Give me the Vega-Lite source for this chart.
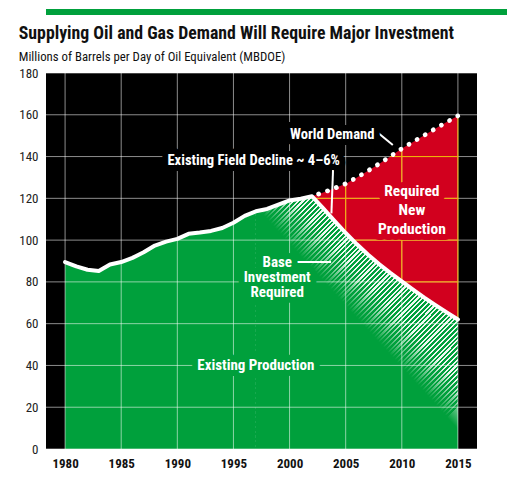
{
 "$schema": "https://vega.github.io/schema/vega-lite/v6.json",
 "padding": {"left": 18, "top": 9, "right": 0, "bottom": 0},
 "background": "#ffffff",
 "spacing": 10,
 "columns": 1,
 "align": "none",
 "config": {
  "font": "Roboto Condensed",
  "view": {"stroke": null},
  "axis": {"grid": false, "domain": false, "ticks": false, "labelFont": "Roboto Condensed"},
  "text": {"font": "Roboto Condensed"}
 },
 "datasets": {
  "main": [
   {"year": 1980, "prod": 89.5}, {"year": 1981, "prod": 87.4}, {"year": 1982, "prod": 85.8},
   {"year": 1983, "prod": 85.2}, {"year": 1984, "prod": 88.3}, {"year": 1985, "prod": 89.5},
   {"year": 1986, "prod": 91.5}, {"year": 1987, "prod": 94.2}, {"year": 1988, "prod": 97.4},
   {"year": 1989, "prod": 99.3}, {"year": 1990, "prod": 100.6}, {"year": 1991, "prod": 103},
   {"year": 1992, "prod": 103.6}, {"year": 1993, "prod": 104.4}, {"year": 1994, "prod": 105.8},
   {"year": 1995, "prod": 108.3}, {"year": 1996, "prod": 111.6}, {"year": 1997, "prod": 113.8},
   {"year": 1998, "prod": 114.9}, {"year": 1999, "prod": 117}, {"year": 2000, "prod": 119},
   {"year": 2001, "prod": 119.8},
   {"year": 2002, "prod": 121, "demand": 121},
   {"year": 2003, "prod": 115.2, "demand": 122.8},
   {"year": 2004, "prod": 109.2, "demand": 124.8},
   {"year": 2005, "prod": 103.4, "demand": 127},
   {"year": 2006, "prod": 98, "demand": 130},
   {"year": 2007, "prod": 93, "demand": 133.2},
   {"year": 2008, "prod": 88.4, "demand": 136.6},
   {"year": 2009, "prod": 84.2, "demand": 140.2},
   {"year": 2010, "prod": 80.2, "demand": 143.8},
   {"year": 2011, "prod": 76.3, "demand": 147},
   {"year": 2012, "prod": 72.5, "demand": 150.2},
   {"year": 2013, "prod": 68.9, "demand": 153.4},
   {"year": 2014, "prod": 65.4, "demand": 156.5},
   {"year": 2015, "prod": 62, "demand": 159.5}
  ]
 },
 "concat": [
  {
   "width": 461, "height": 6,
   "data": {"values": [{}]},
   "mark": {"type": "rect", "color": "#00a03c"},
   "encoding": {}
  },
  {
   "width": 431, "height": 376,
   "title": {
    "text": "Supplying Oil and Gas Demand Will Require Major Investment",
    "subtitle": "Millions of Barrels per Day of Oil Equivalent (MBDOE)",
    "anchor": "start", "frame": "bounds",
    "font": "Roboto Condensed", "fontSize": 17.8, "fontWeight": "bold", "color": "#111111",
    "subtitleFont": "Roboto Condensed", "subtitleFontSize": 12.8, "subtitleFontWeight": "normal", "subtitleColor": "#111111",
    "subtitlePadding": 8, "offset": 3
   },
   "layer": [
    {
     "data": {"values": [{}]},
     "mark": {"type": "rect", "color": "#000000"},
     "encoding": {}
    },
    {
     "data": {"name": "main"},
     "mark": {"type": "area", "color": "#00a03c"},
     "encoding": {
      "x": {"field": "year", "type": "quantitative", "title": null,
            "scale": {"domain": [1978.3, 2016.7], "nice": false, "zero": false},
            "axis": {"values": [1980, 1985, 1990, 1995, 2000, 2005, 2010, 2015], "format": "d",
                     "labelFontWeight": "bold", "labelFontSize": 13, "labelColor": "#111111", "labelPadding": 8}},
      "y": {"field": "prod", "type": "quantitative", "title": null,
            "scale": {"domain": [0, 180], "nice": false},
            "axis": {"values": [0, 20, 40, 60, 80, 100, 120, 140, 160, 180],
                     "labelFontSize": 13, "labelColor": "#222222", "labelPadding": 8}}
     }
    },
    {
     "data": {"name": "main"},
     "transform": [{"filter": "datum.demand != null"}],
     "mark": {"type": "area", "color": "#d2001e"},
     "encoding": {
      "x": {"field": "year", "type": "quantitative", "title": null},
      "y": {"field": "prod", "type": "quantitative", "title": null},
      "y2": {"field": "demand"}
     }
    },
    {
     "data": {"name": "main"},
     "transform": [{"filter": "datum.year >= 1997"}],
     "mark": {"type": "area", "color": {"gradient": "linear", "x1": 0, "y1": 0, "x2": 0.8, "y2": 1, "stops": [
{"offset":0,"color":"#00a03c"},{"offset":0.0064,"color":"#00a03c"},{"offset":0.0064,"color":"#f0f8f2"},{"offset":0.0116,"color":"#f0f8f2"},
{"offset":0.0116,"color":"#00a03c"},{"offset":0.018,"color":"#00a03c"},{"offset":0.018,"color":"#f0f8f2"},{"offset":0.0233,"color":"#f0f8f2"},
{"offset":0.0233,"color":"#00a03c"},{"offset":0.0297,"color":"#00a03c"},{"offset":0.0297,"color":"#f0f8f2"},{"offset":0.0349,"color":"#f0f8f2"},
{"offset":0.0349,"color":"#00a03c"},{"offset":0.0413,"color":"#00a03c"},{"offset":0.0413,"color":"#f0f8f2"},{"offset":0.0465,"color":"#f0f8f2"},
{"offset":0.0465,"color":"#00a03c"},{"offset":0.0529,"color":"#00a03c"},{"offset":0.0529,"color":"#f0f8f2"},{"offset":0.0581,"color":"#f0f8f2"},
{"offset":0.0581,"color":"#00a03c"},{"offset":0.0645,"color":"#00a03c"},{"offset":0.0645,"color":"#f0f8f2"},{"offset":0.0698,"color":"#f0f8f2"},
{"offset":0.0698,"color":"#00a03c"},{"offset":0.0762,"color":"#00a03c"},{"offset":0.0762,"color":"#f0f8f2"},{"offset":0.0814,"color":"#f0f8f2"},
{"offset":0.0814,"color":"#00a03c"},{"offset":0.0878,"color":"#00a03c"},{"offset":0.0878,"color":"#f0f8f2"},{"offset":0.093,"color":"#f0f8f2"},
{"offset":0.093,"color":"#00a03c"},{"offset":0.0994,"color":"#00a03c"},{"offset":0.0994,"color":"#f0f8f2"},{"offset":0.1047,"color":"#f0f8f2"},
{"offset":0.1047,"color":"#00a03c"},{"offset":0.1111,"color":"#00a03c"},{"offset":0.1111,"color":"#f0f8f2"},{"offset":0.1163,"color":"#f0f8f2"},
{"offset":0.1163,"color":"#00a03c"},{"offset":0.1227,"color":"#00a03c"},{"offset":0.1227,"color":"#f0f8f2"},{"offset":0.1279,"color":"#f0f8f2"},
{"offset":0.1279,"color":"#00a03c"},{"offset":0.1343,"color":"#00a03c"},{"offset":0.1343,"color":"#f0f8f2"},{"offset":0.1395,"color":"#f0f8f2"},
{"offset":0.1395,"color":"#00a03c"},{"offset":0.1459,"color":"#00a03c"},{"offset":0.1459,"color":"#f0f8f2"},{"offset":0.1512,"color":"#f0f8f2"},
{"offset":0.1512,"color":"#00a03c"},{"offset":0.1576,"color":"#00a03c"},{"offset":0.1576,"color":"#f0f8f2"},{"offset":0.1628,"color":"#f0f8f2"},
{"offset":0.1628,"color":"#00a03c"},{"offset":0.1692,"color":"#00a03c"},{"offset":0.1692,"color":"#f0f8f2"},{"offset":0.1744,"color":"#f0f8f2"},
{"offset":0.1744,"color":"#00a03c"},{"offset":0.1808,"color":"#00a03c"},{"offset":0.1808,"color":"#f0f8f2"},{"offset":0.186,"color":"#f0f8f2"},
{"offset":0.186,"color":"#00a03c"},{"offset":0.1924,"color":"#00a03c"},{"offset":0.1924,"color":"#f0f8f2"},{"offset":0.1977,"color":"#f0f8f2"},
{"offset":0.1977,"color":"#00a03c"},{"offset":0.2041,"color":"#00a03c"},{"offset":0.2041,"color":"#f0f8f2"},{"offset":0.2093,"color":"#f0f8f2"},
{"offset":0.2093,"color":"#00a03c"},{"offset":0.2157,"color":"#00a03c"},{"offset":0.2157,"color":"#f0f8f2"},{"offset":0.2209,"color":"#f0f8f2"},
{"offset":0.2209,"color":"#00a03c"},{"offset":0.2273,"color":"#00a03c"},{"offset":0.2273,"color":"#f0f8f2"},{"offset":0.2326,"color":"#f0f8f2"},
{"offset":0.2326,"color":"#00a03c"},{"offset":0.239,"color":"#00a03c"},{"offset":0.239,"color":"#f0f8f2"},{"offset":0.2442,"color":"#f0f8f2"},
{"offset":0.2442,"color":"#00a03c"},{"offset":0.2506,"color":"#00a03c"},{"offset":0.2506,"color":"#f0f8f2"},{"offset":0.2558,"color":"#f0f8f2"},
{"offset":0.2558,"color":"#00a03c"},{"offset":0.2622,"color":"#00a03c"},{"offset":0.2622,"color":"#f0f8f2"},{"offset":0.2674,"color":"#f0f8f2"},
{"offset":0.2674,"color":"#00a03c"},{"offset":0.2738,"color":"#00a03c"},{"offset":0.2738,"color":"#f0f8f2"},{"offset":0.2791,"color":"#f0f8f2"},
{"offset":0.2791,"color":"#00a03c"},{"offset":0.2855,"color":"#00a03c"},{"offset":0.2855,"color":"#f0f8f2"},{"offset":0.2907,"color":"#f0f8f2"},
{"offset":0.2907,"color":"#00a03c"},{"offset":0.2971,"color":"#00a03c"},{"offset":0.2971,"color":"#f0f8f2"},{"offset":0.3023,"color":"#f0f8f2"},
{"offset":0.3023,"color":"#00a03c"},{"offset":0.3087,"color":"#00a03c"},{"offset":0.3087,"color":"#f0f8f2"},{"offset":0.314,"color":"#f0f8f2"},
{"offset":0.314,"color":"#00a03c"},{"offset":0.3204,"color":"#00a03c"},{"offset":0.3204,"color":"#f0f8f2"},{"offset":0.3256,"color":"#f0f8f2"},
{"offset":0.3256,"color":"#00a03c"},{"offset":0.332,"color":"#00a03c"},{"offset":0.332,"color":"#f0f8f2"},{"offset":0.3372,"color":"#f0f8f2"},
{"offset":0.3372,"color":"#00a03c"},{"offset":0.3436,"color":"#00a03c"},{"offset":0.3436,"color":"#f0f8f2"},{"offset":0.3488,"color":"#f0f8f2"},
{"offset":0.3488,"color":"#00a03c"},{"offset":0.3552,"color":"#00a03c"},{"offset":0.3552,"color":"#f0f8f2"},{"offset":0.3605,"color":"#f0f8f2"},
{"offset":0.3605,"color":"#00a03c"},{"offset":0.3669,"color":"#00a03c"},{"offset":0.3669,"color":"#f0f8f2"},{"offset":0.3721,"color":"#f0f8f2"},
{"offset":0.3721,"color":"#00a03c"},{"offset":0.3785,"color":"#00a03c"},{"offset":0.3785,"color":"#f0f8f2"},{"offset":0.3837,"color":"#f0f8f2"},
{"offset":0.3837,"color":"#00a03c"},{"offset":0.3901,"color":"#00a03c"},{"offset":0.3901,"color":"#f0f8f2"},{"offset":0.3953,"color":"#f0f8f2"},
{"offset":0.3953,"color":"#00a03c"},{"offset":0.4017,"color":"#00a03c"},{"offset":0.4017,"color":"#f0f8f2"},{"offset":0.407,"color":"#f0f8f2"},
{"offset":0.407,"color":"#00a03c"},{"offset":0.4134,"color":"#00a03c"},{"offset":0.4134,"color":"#f0f8f2"},{"offset":0.4186,"color":"#f0f8f2"},
{"offset":0.4186,"color":"#00a03c"},{"offset":0.425,"color":"#00a03c"},{"offset":0.425,"color":"#f0f8f2"},{"offset":0.4302,"color":"#f0f8f2"},
{"offset":0.4302,"color":"#00a03c"},{"offset":0.4366,"color":"#00a03c"},{"offset":0.4366,"color":"#f0f8f2"},{"offset":0.4419,"color":"#f0f8f2"},
{"offset":0.4419,"color":"#00a03c"},{"offset":0.4483,"color":"#00a03c"},{"offset":0.4483,"color":"#f0f8f2"},{"offset":0.4535,"color":"#f0f8f2"},
{"offset":0.4535,"color":"#00a03c"},{"offset":0.4599,"color":"#00a03c"},{"offset":0.4599,"color":"#f0f8f2"},{"offset":0.4651,"color":"#f0f8f2"},
{"offset":0.4651,"color":"#00a03c"},{"offset":0.4715,"color":"#00a03c"},{"offset":0.4715,"color":"#f0f8f2"},{"offset":0.4767,"color":"#f0f8f2"},
{"offset":0.4767,"color":"#00a03c"},{"offset":0.4831,"color":"#00a03c"},{"offset":0.4831,"color":"#f0f8f2"},{"offset":0.4884,"color":"#f0f8f2"},
{"offset":0.4884,"color":"#00a03c"},{"offset":0.4948,"color":"#00a03c"},{"offset":0.4948,"color":"#f0f8f2"},{"offset":0.5,"color":"#f0f8f2"},
{"offset":0.5,"color":"#00a03c"},{"offset":0.5064,"color":"#00a03c"},{"offset":0.5064,"color":"#f0f8f2"},{"offset":0.5116,"color":"#f0f8f2"},
{"offset":0.5116,"color":"#00a03c"},{"offset":0.518,"color":"#00a03c"},{"offset":0.518,"color":"#f0f8f2"},{"offset":0.5233,"color":"#f0f8f2"},
{"offset":0.5233,"color":"#00a03c"},{"offset":0.5297,"color":"#00a03c"},{"offset":0.5297,"color":"#f0f8f2"},{"offset":0.5349,"color":"#f0f8f2"},
{"offset":0.5349,"color":"#00a03c"},{"offset":0.5413,"color":"#00a03c"},{"offset":0.5413,"color":"#f0f8f2"},{"offset":0.5465,"color":"#f0f8f2"},
{"offset":0.5465,"color":"#00a03c"},{"offset":0.5529,"color":"#00a03c"},{"offset":0.5529,"color":"#f0f8f2"},{"offset":0.5581,"color":"#f0f8f2"},
{"offset":0.5581,"color":"#00a03c"},{"offset":0.5645,"color":"#00a03c"},{"offset":0.5645,"color":"#f0f8f2"},{"offset":0.5698,"color":"#f0f8f2"},
{"offset":0.5698,"color":"#00a03c"},{"offset":0.5762,"color":"#00a03c"},{"offset":0.5762,"color":"#f0f8f2"},{"offset":0.5814,"color":"#f0f8f2"},
{"offset":0.5814,"color":"#00a03c"},{"offset":0.5878,"color":"#00a03c"},{"offset":0.5878,"color":"#f0f8f2"},{"offset":0.593,"color":"#f0f8f2"},
{"offset":0.593,"color":"#00a03c"},{"offset":0.5994,"color":"#00a03c"},{"offset":0.5994,"color":"#f0f8f2"},{"offset":0.6047,"color":"#f0f8f2"},
{"offset":0.6047,"color":"#00a03c"},{"offset":0.6111,"color":"#00a03c"},{"offset":0.6111,"color":"#f0f8f2"},{"offset":0.6163,"color":"#f0f8f2"},
{"offset":0.6163,"color":"#00a03c"},{"offset":0.6227,"color":"#00a03c"},{"offset":0.6227,"color":"#f0f8f2"},{"offset":0.6279,"color":"#f0f8f2"},
{"offset":0.6279,"color":"#00a03c"},{"offset":0.6343,"color":"#00a03c"},{"offset":0.6343,"color":"#f0f8f2"},{"offset":0.6395,"color":"#f0f8f2"},
{"offset":0.6395,"color":"#00a03c"},{"offset":0.6459,"color":"#00a03c"},{"offset":0.6459,"color":"#f0f8f2"},{"offset":0.6512,"color":"#f0f8f2"},
{"offset":0.6512,"color":"#00a03c"},{"offset":0.6576,"color":"#00a03c"},{"offset":0.6576,"color":"#f0f8f2"},{"offset":0.6628,"color":"#f0f8f2"},
{"offset":0.6628,"color":"#00a03c"},{"offset":0.6692,"color":"#00a03c"},{"offset":0.6692,"color":"#f0f8f2"},{"offset":0.6744,"color":"#f0f8f2"},
{"offset":0.6744,"color":"#00a03c"},{"offset":0.6808,"color":"#00a03c"},{"offset":0.6808,"color":"#f0f8f2"},{"offset":0.686,"color":"#f0f8f2"},
{"offset":0.686,"color":"#00a03c"},{"offset":0.6924,"color":"#00a03c"},{"offset":0.6924,"color":"#f0f8f2"},{"offset":0.6977,"color":"#f0f8f2"},
{"offset":0.6977,"color":"#00a03c"},{"offset":0.7041,"color":"#00a03c"},{"offset":0.7041,"color":"#f0f8f2"},{"offset":0.7093,"color":"#f0f8f2"},
{"offset":0.7093,"color":"#00a03c"},{"offset":0.7157,"color":"#00a03c"},{"offset":0.7157,"color":"#f0f8f2"},{"offset":0.7209,"color":"#f0f8f2"},
{"offset":0.7209,"color":"#00a03c"},{"offset":0.7273,"color":"#00a03c"},{"offset":0.7273,"color":"#f0f8f2"},{"offset":0.7326,"color":"#f0f8f2"},
{"offset":0.7326,"color":"#00a03c"},{"offset":0.739,"color":"#00a03c"},{"offset":0.739,"color":"#f0f8f2"},{"offset":0.7442,"color":"#f0f8f2"},
{"offset":0.7442,"color":"#00a03c"},{"offset":0.7506,"color":"#00a03c"},{"offset":0.7506,"color":"#f0f8f2"},{"offset":0.7558,"color":"#f0f8f2"},
{"offset":0.7558,"color":"#00a03c"},{"offset":0.7622,"color":"#00a03c"},{"offset":0.7622,"color":"#f0f8f2"},{"offset":0.7674,"color":"#f0f8f2"},
{"offset":0.7674,"color":"#00a03c"},{"offset":0.7738,"color":"#00a03c"},{"offset":0.7738,"color":"#f0f8f2"},{"offset":0.7791,"color":"#f0f8f2"},
{"offset":0.7791,"color":"#00a03c"},{"offset":0.7855,"color":"#00a03c"},{"offset":0.7855,"color":"#f0f8f2"},{"offset":0.7907,"color":"#f0f8f2"},
{"offset":0.7907,"color":"#00a03c"},{"offset":0.7971,"color":"#00a03c"},{"offset":0.7971,"color":"#f0f8f2"},{"offset":0.8023,"color":"#f0f8f2"},
{"offset":0.8023,"color":"#00a03c"},{"offset":0.8087,"color":"#00a03c"},{"offset":0.8087,"color":"#f0f8f2"},{"offset":0.814,"color":"#f0f8f2"},
{"offset":0.814,"color":"#00a03c"},{"offset":0.8204,"color":"#00a03c"},{"offset":0.8204,"color":"#f0f8f2"},{"offset":0.8256,"color":"#f0f8f2"},
{"offset":0.8256,"color":"#00a03c"},{"offset":0.832,"color":"#00a03c"},{"offset":0.832,"color":"#f0f8f2"},{"offset":0.8372,"color":"#f0f8f2"},
{"offset":0.8372,"color":"#00a03c"},{"offset":0.8436,"color":"#00a03c"},{"offset":0.8436,"color":"#f0f8f2"},{"offset":0.8488,"color":"#f0f8f2"},
{"offset":0.8488,"color":"#00a03c"},{"offset":0.8552,"color":"#00a03c"},{"offset":0.8552,"color":"#f0f8f2"},{"offset":0.8605,"color":"#f0f8f2"},
{"offset":0.8605,"color":"#00a03c"},{"offset":0.8669,"color":"#00a03c"},{"offset":0.8669,"color":"#f0f8f2"},{"offset":0.8721,"color":"#f0f8f2"},
{"offset":0.8721,"color":"#00a03c"},{"offset":0.8785,"color":"#00a03c"},{"offset":0.8785,"color":"#f0f8f2"},{"offset":0.8837,"color":"#f0f8f2"},
{"offset":0.8837,"color":"#00a03c"},{"offset":0.8901,"color":"#00a03c"},{"offset":0.8901,"color":"#f0f8f2"},{"offset":0.8953,"color":"#f0f8f2"},
{"offset":0.8953,"color":"#00a03c"},{"offset":0.9017,"color":"#00a03c"},{"offset":0.9017,"color":"#f0f8f2"},{"offset":0.907,"color":"#f0f8f2"},
{"offset":0.907,"color":"#00a03c"},{"offset":0.9134,"color":"#00a03c"},{"offset":0.9134,"color":"#f0f8f2"},{"offset":0.9186,"color":"#f0f8f2"},
{"offset":0.9186,"color":"#00a03c"},{"offset":0.925,"color":"#00a03c"},{"offset":0.925,"color":"#f0f8f2"},{"offset":0.9302,"color":"#f0f8f2"},
{"offset":0.9302,"color":"#00a03c"},{"offset":0.9366,"color":"#00a03c"},{"offset":0.9366,"color":"#f0f8f2"},{"offset":0.9419,"color":"#f0f8f2"},
{"offset":0.9419,"color":"#00a03c"},{"offset":0.9483,"color":"#00a03c"},{"offset":0.9483,"color":"#f0f8f2"},{"offset":0.9535,"color":"#f0f8f2"},
{"offset":0.9535,"color":"#00a03c"},{"offset":0.9599,"color":"#00a03c"},{"offset":0.9599,"color":"#f0f8f2"},{"offset":0.9651,"color":"#f0f8f2"},
{"offset":0.9651,"color":"#00a03c"},{"offset":0.9715,"color":"#00a03c"},{"offset":0.9715,"color":"#f0f8f2"},{"offset":0.9767,"color":"#f0f8f2"},
{"offset":0.9767,"color":"#00a03c"},{"offset":0.9831,"color":"#00a03c"},{"offset":0.9831,"color":"#f0f8f2"},{"offset":0.9884,"color":"#f0f8f2"},
{"offset":0.9884,"color":"#00a03c"},{"offset":0.9948,"color":"#00a03c"},{"offset":0.9948,"color":"#f0f8f2"},{"offset":1,"color":"#f0f8f2"}
     ]}},
     "encoding": {
      "x": {"field": "year", "type": "quantitative", "title": null},
      "y": {"field": "prod", "type": "quantitative", "title": null}
     }
    },
    {
     "data": {"name": "main"},
     "transform": [{"filter": "datum.year >= 1997"}],
     "mark": {"type": "area", "color": {"gradient": "linear", "x1": 0, "y1": 1, "x2": 0.88, "y2": 0, "stops": [
      {"offset": 0, "color": "rgba(0,160,60,1)"},
      {"offset": 0.54, "color": "rgba(0,160,60,1)"},
      {"offset": 0.645, "color": "rgba(0,160,60,0)"},
      {"offset": 1, "color": "rgba(0,160,60,0)"}
     ]}},
     "encoding": {
      "x": {"field": "year", "type": "quantitative", "title": null},
      "y": {"field": "prod", "type": "quantitative", "title": null}
     }
    },
    {
     "data": {"values": [{"g": 1980}, {"g": 1985}, {"g": 1990}, {"g": 1995}, {"g": 2000}, {"g": 2005}, {"g": 2010}, {"g": 2015}]},
     "mark": {"type": "rule", "color": "#ffffff", "opacity": 0.55, "strokeWidth": 1},
     "encoding": {"x": {"field": "g", "type": "quantitative", "title": null}}
    },
    {
     "data": {"values": [{"g": 0}, {"g": 20}, {"g": 40}, {"g": 60}, {"g": 80}, {"g": 100}, {"g": 120}, {"g": 140}, {"g": 160}, {"g": 180}]},
     "mark": {"type": "rule", "color": "#ffffff", "opacity": 0.55, "strokeWidth": 1},
     "encoding": {"y": {"field": "g", "type": "quantitative", "title": null}}
    },
    {
     "data": {"values": [{"g": 2005, "lo": 103.4, "hi": 127}, {"g": 2010, "lo": 80.2, "hi": 143.8}, {"g": 2015, "lo": 62, "hi": 159.5}]},
     "mark": {"type": "rule", "color": "#f0b400", "strokeWidth": 1},
     "encoding": {
      "x": {"field": "g", "type": "quantitative", "title": null},
      "y": {"field": "lo", "type": "quantitative", "title": null},
      "y2": {"field": "hi"}
     }
    },
    {
     "data": {"values": [{"g": 80, "a": 2010.05, "b": 2015}, {"g": 100, "a": 2005.63, "b": 2015}, {"g": 120, "a": 2002.17, "b": 2015}, {"g": 140, "a": 2008.94, "b": 2015}]},
     "mark": {"type": "rule", "color": "#f0b400", "strokeWidth": 1},
     "encoding": {
      "y": {"field": "g", "type": "quantitative", "title": null},
      "x": {"field": "a", "type": "quantitative", "title": null},
      "x2": {"field": "b"}
     }
    },
    {
     "data": {"name": "main"},
     "mark": {"type": "line", "color": "#ffffff", "strokeWidth": 4, "strokeJoin": "round", "strokeCap": "round"},
     "encoding": {
      "x": {"field": "year", "type": "quantitative", "title": null},
      "y": {"field": "prod", "type": "quantitative", "title": null}
     }
    },
    {
     "data": {"name": "main"},
     "transform": [{"filter": "datum.demand != null"}],
     "mark": {"type": "line", "color": "#ffffff", "strokeWidth": 4.8, "strokeCap": "round", "strokeDash": [0.01, 9.4], "strokeDashOffset": 2.4},
     "encoding": {
      "x": {"field": "year", "type": "quantitative", "title": null},
      "y": {"field": "demand", "type": "quantitative", "title": null}
     }
    },
    {
     "data": {"values": [
      {"a": 2003.88, "b": 2003.73, "lo": 134.5, "hi": 112.8},
      {"a": 2007.9, "b": 2009.2, "lo": 151.3, "hi": 145.5},
      {"a": 2000.6, "b": 2003.7, "lo": 89.5, "hi": 89.5}
     ]},
     "mark": {"type": "rule", "color": "#ffffff", "strokeWidth": 2},
     "encoding": {
      "x": {"field": "a", "type": "quantitative", "title": null},
      "x2": {"field": "b"},
      "y": {"field": "lo", "type": "quantitative", "title": null},
      "y2": {"field": "hi"}
     }
    },
    {
     "data": {"values": [
      {"t": "Existing Field Decline ~ 4–6%", "x": 1996.8, "y": 137.9},
      {"t": "World Demand", "x": 2003.8, "y": 150.3}
     ]},
     "encoding": {
      "x": {"field": "x", "type": "quantitative", "title": null},
      "y": {"field": "y", "type": "quantitative", "title": null},
      "text": {"field": "t"}
     },
     "layer": [
      {"mark": {"type": "text", "font": "Roboto Condensed", "fontSize": 14.6, "fontWeight": "bold", "color": "#000000", "stroke": "#000000", "strokeWidth": 12, "strokeJoin": "round"}},
      {"mark": {"type": "text", "font": "Roboto Condensed", "fontSize": 14.6, "fontWeight": "bold", "color": "#ffffff"}}
     ]
    },
    {
     "data": {"values": [
      {"t": "Required\nNew\nProduction", "x": 2010.9, "y": 123.7}
     ]},
     "encoding": {
      "x": {"field": "x", "type": "quantitative", "title": null},
      "y": {"field": "y", "type": "quantitative", "title": null},
      "text": {"field": "t"}
     },
     "layer": [
      {"mark": {"type": "text", "font": "Roboto Condensed", "fontSize": 15.5, "fontWeight": "bold", "lineBreak": "\n", "lineHeight": 19, "color": "#d2001e", "stroke": "#d2001e", "strokeWidth": 12, "strokeJoin": "round"}},
      {"mark": {"type": "text", "font": "Roboto Condensed", "fontSize": 15.5, "fontWeight": "bold", "lineBreak": "\n", "lineHeight": 19, "color": "#ffffff"}}
     ]
    },
    {
     "data": {"values": [
      {"t": "Base\nInvestment\nRequired", "x": 1998.9, "y": 89.3},
      {"t": "Existing Production", "x": 1997.0, "y": 40.2}
     ]},
     "encoding": {
      "x": {"field": "x", "type": "quantitative", "title": null},
      "y": {"field": "y", "type": "quantitative", "title": null},
      "text": {"field": "t"}
     },
     "layer": [
      {"mark": {"type": "text", "font": "Roboto Condensed", "fontSize": 15, "fontWeight": "bold", "lineBreak": "\n", "lineHeight": 15, "color": "#00a03c", "stroke": "#00a03c", "strokeWidth": 12, "strokeJoin": "round"}},
      {"mark": {"type": "text", "font": "Roboto Condensed", "fontSize": 15, "fontWeight": "bold", "lineBreak": "\n", "lineHeight": 15, "color": "#ffffff"}}
     ]
    }
   ]
  }
 ]
}
